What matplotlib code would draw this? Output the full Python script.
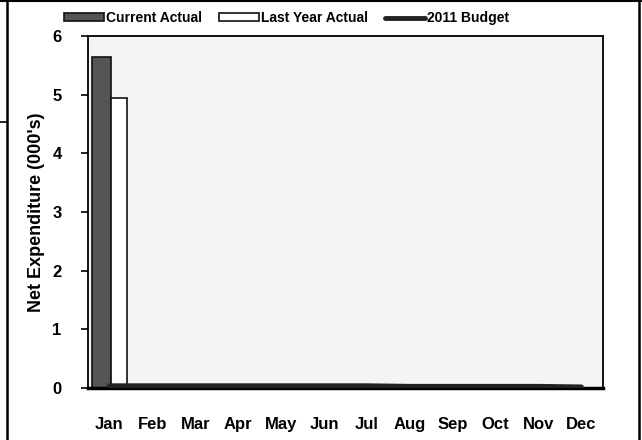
import numpy as np
import matplotlib.pyplot as plt
from matplotlib.lines import Line2D

months = ["Jan", "Feb", "Mar", "Apr", "May", "Jun", "Jul", "Aug", "Sep", "Oct", "Nov", "Dec"]
current_actual = [5.65, 0, 0, 0, 0, 0, 0, 0, 0, 0, 0, 0]
last_year_actual = [4.95, 0, 0, 0, 0, 0, 0, 0, 0, 0, 0, 0]
budget_2011 = [0.04, 0.04, 0.04, 0.04, 0.04, 0.04, 0.04, 0.03, 0.03, 0.03, 0.03, 0.02]

plt.rcParams['font.family'] = ['Liberation Sans', 'DejaVu Sans']
plt.rcParams['font.weight'] = 'bold'

fig = plt.figure(figsize=(6.42, 4.4), dpi=100)
ax = fig.add_axes([0.137, 0.118, 0.802, 0.80])
ax.set_facecolor('#f4f4f4')

x = np.arange(len(months))
b1 = ax.bar(x - 0.18, current_actual, width=0.44, color='#555555', edgecolor='#111111',
            linewidth=1.2, label='Current Actual', zorder=2)
b2 = ax.bar(x + 0.23, last_year_actual, width=0.38, color='white', edgecolor='#111111',
            linewidth=1.2, label='Last Year Actual', zorder=2)
l1, = ax.plot(x, budget_2011, color='#222222', linewidth=3.5, solid_capstyle='round',
              label='2011 Budget', zorder=3)

ax.set_xlim(-0.5, 11.5)
ax.set_ylim(0, 6)
ax.set_yticks(range(0, 7))
ax.set_xticks(x)
ax.set_xticklabels(months)
ax.tick_params(axis='x', length=0, pad=21, labelsize=12)
ax.tick_params(axis='y', length=5, width=1.2, pad=14, labelsize=12)
ax.set_ylabel("Net Expenditure (000's)", fontsize=13, fontweight='bold', labelpad=5)
for side in ['top', 'bottom', 'left', 'right']:
    ax.spines[side].set_linewidth(1.3)
ax.spines['bottom'].set_linewidth(2.5)

fig.legend([b1, b2, l1], ['Current Actual', 'Last Year Actual', '2011 Budget'],
           loc='upper left', bbox_to_anchor=(64 / 642, 1 - 11 / 440), ncol=3, frameon=False,
           fontsize=10, handlelength=2.9, handleheight=0.5, handletextpad=0.15,
           columnspacing=1.2, borderpad=0, borderaxespad=0)

# scanned page frame
fig.add_artist(Line2D([7 / 642, 7 / 642], [0, 1], transform=fig.transFigure, color='black', lw=1.8))
fig.add_artist(Line2D([639 / 642, 639 / 642], [0, 1], transform=fig.transFigure, color='black', lw=1.8))
fig.add_artist(Line2D([0, 1], [0.997, 0.997], transform=fig.transFigure, color='black', lw=1.5))
fig.add_artist(Line2D([0, 7 / 642], [1 - 122 / 440, 1 - 122 / 440], transform=fig.transFigure, color='black', lw=1.2))

fig.savefig("out.png", dpi=100)
